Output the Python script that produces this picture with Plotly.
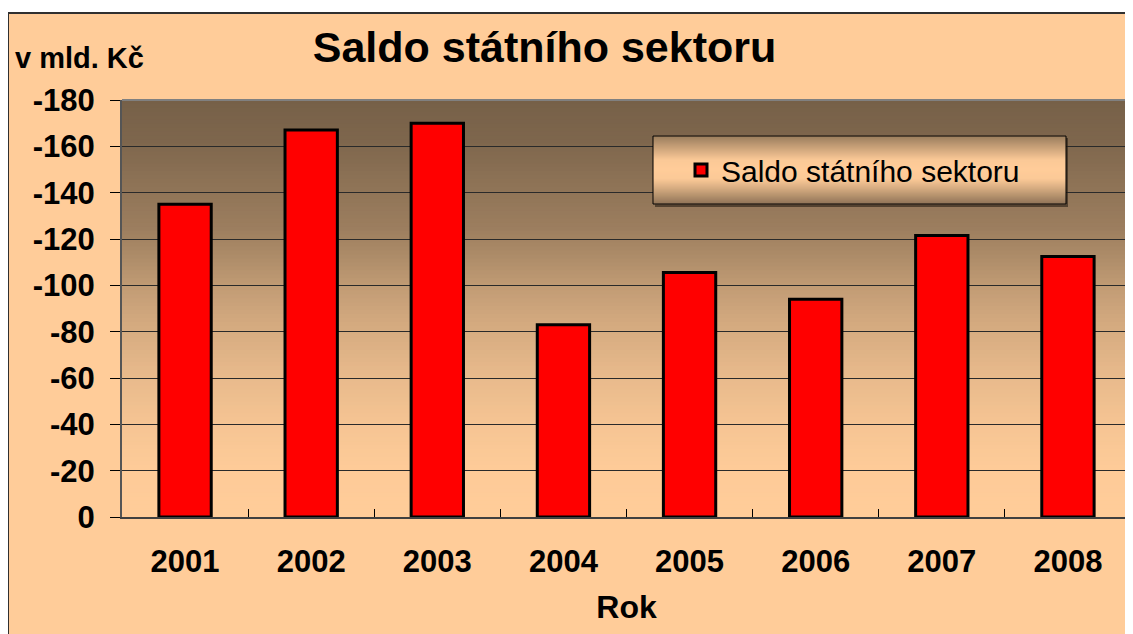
import plotly.graph_objects as go

# ---- data ----
years = ["2001", "2002", "2003", "2004", "2005", "2006", "2007", "2008"]
saldo = [-135, -167, -170, -83, -105.5, -94, -121.5, -112.5]
ytick_vals = [0, -20, -40, -60, -80, -100, -120, -140, -160, -180]
ytick_text = ["0", "-20", "-40", "-60", "-80", "-100", "-120", "-140", "-160", "-180"]
series_name = "Saldo státního sektoru"
chart_title = "Saldo státního sektoru"
y_unit = "v mld. Kč"
x_title = "Rok"

# ---- geometry (pixels, in page coordinates; page body has an 8px margin) ----
OFF = 8
W, H = 1133 - OFF, 634 - OFF
L, R, T, B = 122 - OFF, 1131 - OFF, 100 - OFF, 517 - OFF
FONT = "Liberation Sans, Arial, sans-serif"


def px(x):
    return (x - OFF - L) / (R - L)


def py(y):
    return (B - (y - OFF)) / (B - T)


def lerp_color(c0, c1, f):
    return "rgb(%d,%d,%d)" % tuple(round(a + (b - a) * f) for a, b in zip(c0, c1))


def curve(stops, t):
    for (t0, f0), (t1, f1) in zip(stops, stops[1:]):
        if t0 <= t <= t1:
            return f0 + (f1 - f0) * (t - t0) / (t1 - t0)
    return stops[-1][1]


DARK = (118, 96, 72)
LIGHT = (255, 204, 153)

shapes = []
# outer chart area
shapes.append(dict(type="rect", xref="paper", yref="paper",
                   x0=px(8), x1=px(1133 + 10), y0=py(634 + 10), y1=py(13),
                   fillcolor="rgb(255,204,153)", line=dict(color="#303030", width=2),
                   layer="below"))
# plot-area vertical gradient
bg_stops = [(0, 0), (0.1, 0.06), (0.19, 0.16), (0.31, 0.28), (0.38, 0.41), (0.46, 0.57),
            (0.55, 0.70), (0.65, 0.82), (0.78, 0.93), (0.88, 0.99), (1, 1)]
n = 105
for i in range(n):
    f0 = i / n
    f1 = (i + 1) / n
    t = (i + 0.5) / n
    shapes.append(dict(type="rect", xref="paper", yref="paper",
                       x0=0, x1=1, y0=1 - f1 - 0.001, y1=1 - f0 + 0.001,
                       fillcolor=lerp_color(DARK, LIGHT, curve(bg_stops, t)),
                       line=dict(width=0), layer="below"))
# plot area top/right border
shapes.append(dict(type="path", xref="paper", yref="paper",
                   path="M 0,1 L 1,1 L 1,0", line=dict(color="#808080", width=2),
                   layer="above"))

# legend box with shadow and horizontal-band gradient
LX0, LX1, LY0, LY1 = 653, 1066, 136, 204
shapes.append(dict(type="rect", xref="paper", yref="paper",
                   x0=px(LX0 + 2), x1=px(LX1 + 2), y0=py(LY1 + 3), y1=py(LY0 + 2),
                   fillcolor="rgba(40,30,20,0.6)", line=dict(width=0), layer="above"))
lg_stops = [(0, 0.25), (0.2, 0.65), (0.36, 0.97), (0.5, 1.0), (0.64, 0.97), (0.8, 0.65), (1, 0.2)]
m = 34
for i in range(m):
    y0 = LY0 + (LY1 - LY0) * i / m
    y1 = LY0 + (LY1 - LY0) * (i + 1) / m
    t = (i + 0.5) / m
    shapes.append(dict(type="rect", xref="paper", yref="paper",
                       x0=px(LX0), x1=px(LX1), y0=py(y1) - 0.001, y1=py(y0) + 0.001,
                       fillcolor=lerp_color(DARK, LIGHT, curve(lg_stops, t)),
                       line=dict(width=0), layer="above"))
shapes.append(dict(type="rect", xref="paper", yref="paper",
                   x0=px(LX0), x1=px(LX1), y0=py(LY1), y1=py(LY0),
                   fillcolor="rgba(0,0,0,0)", line=dict(color="#000000", width=1),
                   layer="above"))

fig = go.Figure()
fig.add_trace(go.Bar(
    x=years, y=saldo, name=series_name,
    marker=dict(color="#ff0000", line=dict(color="#000000", width=3)),
    showlegend=True,
))

fig.update_layout(
    width=W, height=H,
    margin=dict(l=L, r=W - R, t=T, b=H - B, pad=0),
    paper_bgcolor="#ffffff",
    plot_bgcolor="rgba(0,0,0,0)",
    bargap=0.585,
    font=dict(family=FONT, color="#000000"),
    title=dict(text="<b>%s</b>" % chart_title, font=dict(size=43, family=FONT, color="#000"),
               x=(544.5 - OFF) / W, xref="container", xanchor="center",
               y=1 - (47 - OFF) / H, yref="container", yanchor="middle"),
    showlegend=True,
    legend=dict(x=px(681), xanchor="left", y=py(170), yanchor="middle",
                bgcolor="rgba(0,0,0,0)", borderwidth=0,
                font=dict(size=30, family=FONT, color="#000")),
    shapes=shapes,
    annotations=[
        dict(text="<b>%s</b>" % y_unit, xref="paper", yref="paper",
             x=px(13), y=py(58), xanchor="left", yanchor="middle",
             showarrow=False, font=dict(size=29, family=FONT, color="#000")),
    ],
)

fig.update_xaxes(
    type="category",
    showgrid=False,
    ticks="inside", ticklen=8, tickwidth=1, tickcolor="#000",
    tickson="boundaries",
    showline=True, linecolor="#404040", linewidth=2,
    tickfont=dict(size=31, family=FONT, color="#000"),
    ticklabelstandoff=16,
    tickprefix="<b>", ticksuffix="</b>",
    title=dict(text="<b>%s</b>" % x_title, font=dict(size=32, family=FONT, color="#000"),
               standoff=17),
    zeroline=False,
)
fig.update_yaxes(
    range=[0, -180],
    tickvals=ytick_vals, ticktext=["<b>%s</b>" % s for s in ytick_text],
    ticks="outside", ticklen=10, tickwidth=1, tickcolor="#000",
    showgrid=True, gridcolor="#2a2a2a", gridwidth=1,
    showline=True, linecolor="#555555", linewidth=2,
    tickfont=dict(size=31, family=FONT, color="#000"),
    ticklabelstandoff=9,
    zeroline=False,
)

fig.write_html("out.html")
